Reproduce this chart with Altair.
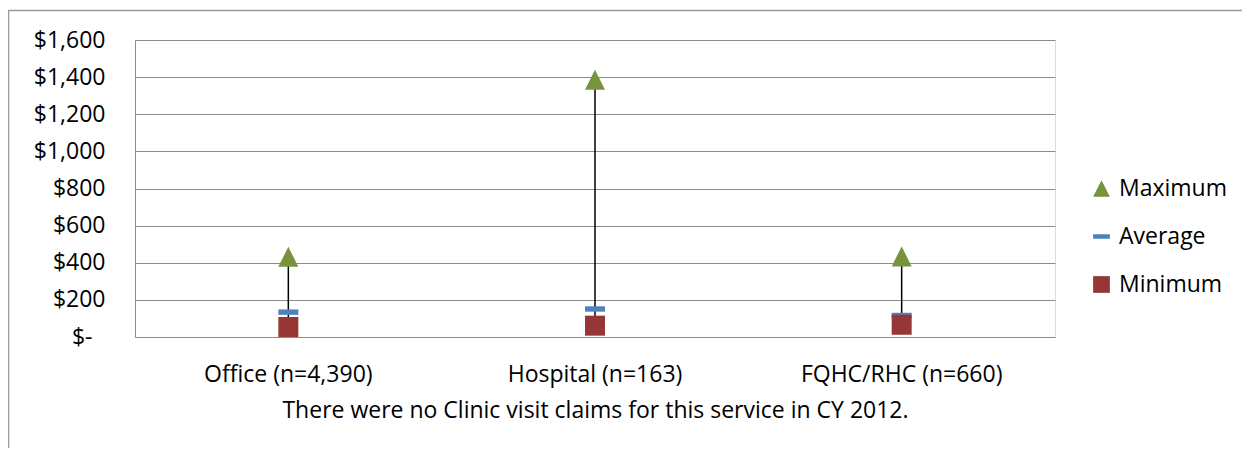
import altair as alt
import pandas as pd

categories = ["Office (n=4,390)", "Hospital (n=163)", "FQHC/RHC (n=660)"]
maximum = [432, 1386, 434]
average = [134, 151, 116]
minimum = [54, 61, 66]
series = ["Maximum", "Average", "Minimum"]
colors = ["#77933C", "#4F81BD", "#953735"]
shapes = ["M0,-1L1,1L-1,1Z", "M-1,-0.27H1V0.27H-1Z", "M-1,-1H1V1H-1Z"]
y_ticks = [0, 200, 400, 600, 800, 1000, 1200, 1400, 1600]
x_title = "There were no Clinic visit claims for this service in CY 2012."

FONT = "Open Sans"
FS = 23
GRID = "#8C8C8C"

wide = pd.DataFrame({"category": categories, "Maximum": maximum,
                     "Average": average, "Minimum": minimum})
long = wide.melt(id_vars="category", value_vars=series,
                 var_name="series", value_name="value")

x_axis = alt.Axis(title=x_title, labelAngle=0, ticks=False, labelLimit=500,
                  domainColor=GRID, labelPadding=26, titlePadding=13,
                  labelFont=FONT, titleFont=FONT, labelFontSize=FS,
                  titleFontSize=FS, titleFontWeight="normal",
                  labelColor="black", titleColor="black")
x_scale = alt.Scale(paddingInner=0, paddingOuter=0)

y_axis = alt.Axis(title=None, values=y_ticks, ticks=False,
                  domainColor=GRID, gridColor=GRID, grid=True,
                  labelOverlap=False, labelBound=False,
                  labelPadding={"condition": {"test": "datum.value === 0", "value": 43},
                                "value": 30},
                  labelFont=FONT, labelFontSize=FS, labelColor="black",
                  labelExpr="datum.value == 0 ? '$-' : '$' + format(datum.value, ',')")
y_scale = alt.Scale(domain=[0, 1600], nice=False, zero=True)

border = alt.Chart(pd.DataFrame({"a": [0]})).mark_rect(
    fill=None, stroke="#9A9A9A", strokeWidth=1.5
).encode(x=alt.value(-126.5), x2=alt.value(1117),
         y=alt.value(-29.5), y2=alt.value(418))

rule = alt.Chart(wide).mark_rule(color="black", strokeWidth=1.5).encode(
    x=alt.X("category:N", sort=categories, scale=x_scale, axis=x_axis),
    y=alt.Y("Minimum:Q", scale=y_scale, axis=y_axis),
    y2="Maximum:Q",
)

order_map = {"Average": 0, "Minimum": 1, "Maximum": 2}
long["draw"] = long["series"].map(order_map)

legend = alt.Legend(title=None, orient="none", legendX=955, legendY=137,
                    labelFont=FONT, labelFontSize=FS, labelColor="black",
                    symbolSize=280, rowPadding=24, labelOffset=6, padding=0,
                    symbolStrokeWidth=0, symbolOpacity=1)

points = alt.Chart(long).mark_point(filled=True, opacity=1, size=400).encode(
    x=alt.X("category:N", sort=categories, scale=x_scale, axis=x_axis),
    y=alt.Y("value:Q", scale=y_scale, axis=y_axis),
    color=alt.Color("series:N", scale=alt.Scale(domain=series, range=colors),
                    legend=legend),
    shape=alt.Shape("series:N", scale=alt.Scale(domain=series, range=shapes),
                    legend=legend),
    order=alt.Order("draw:Q"),
)

chart = alt.layer(border, rule, points).properties(
    width=920, height=297,
    autosize=alt.AutoSizeParams(type="none"),
    padding={"left": 127, "top": 32, "right": 187, "bottom": 111},
).configure_view(stroke=None).configure(background="white")

chart.save("out.html", embed_options={"renderer": "svg", "actions": False})
